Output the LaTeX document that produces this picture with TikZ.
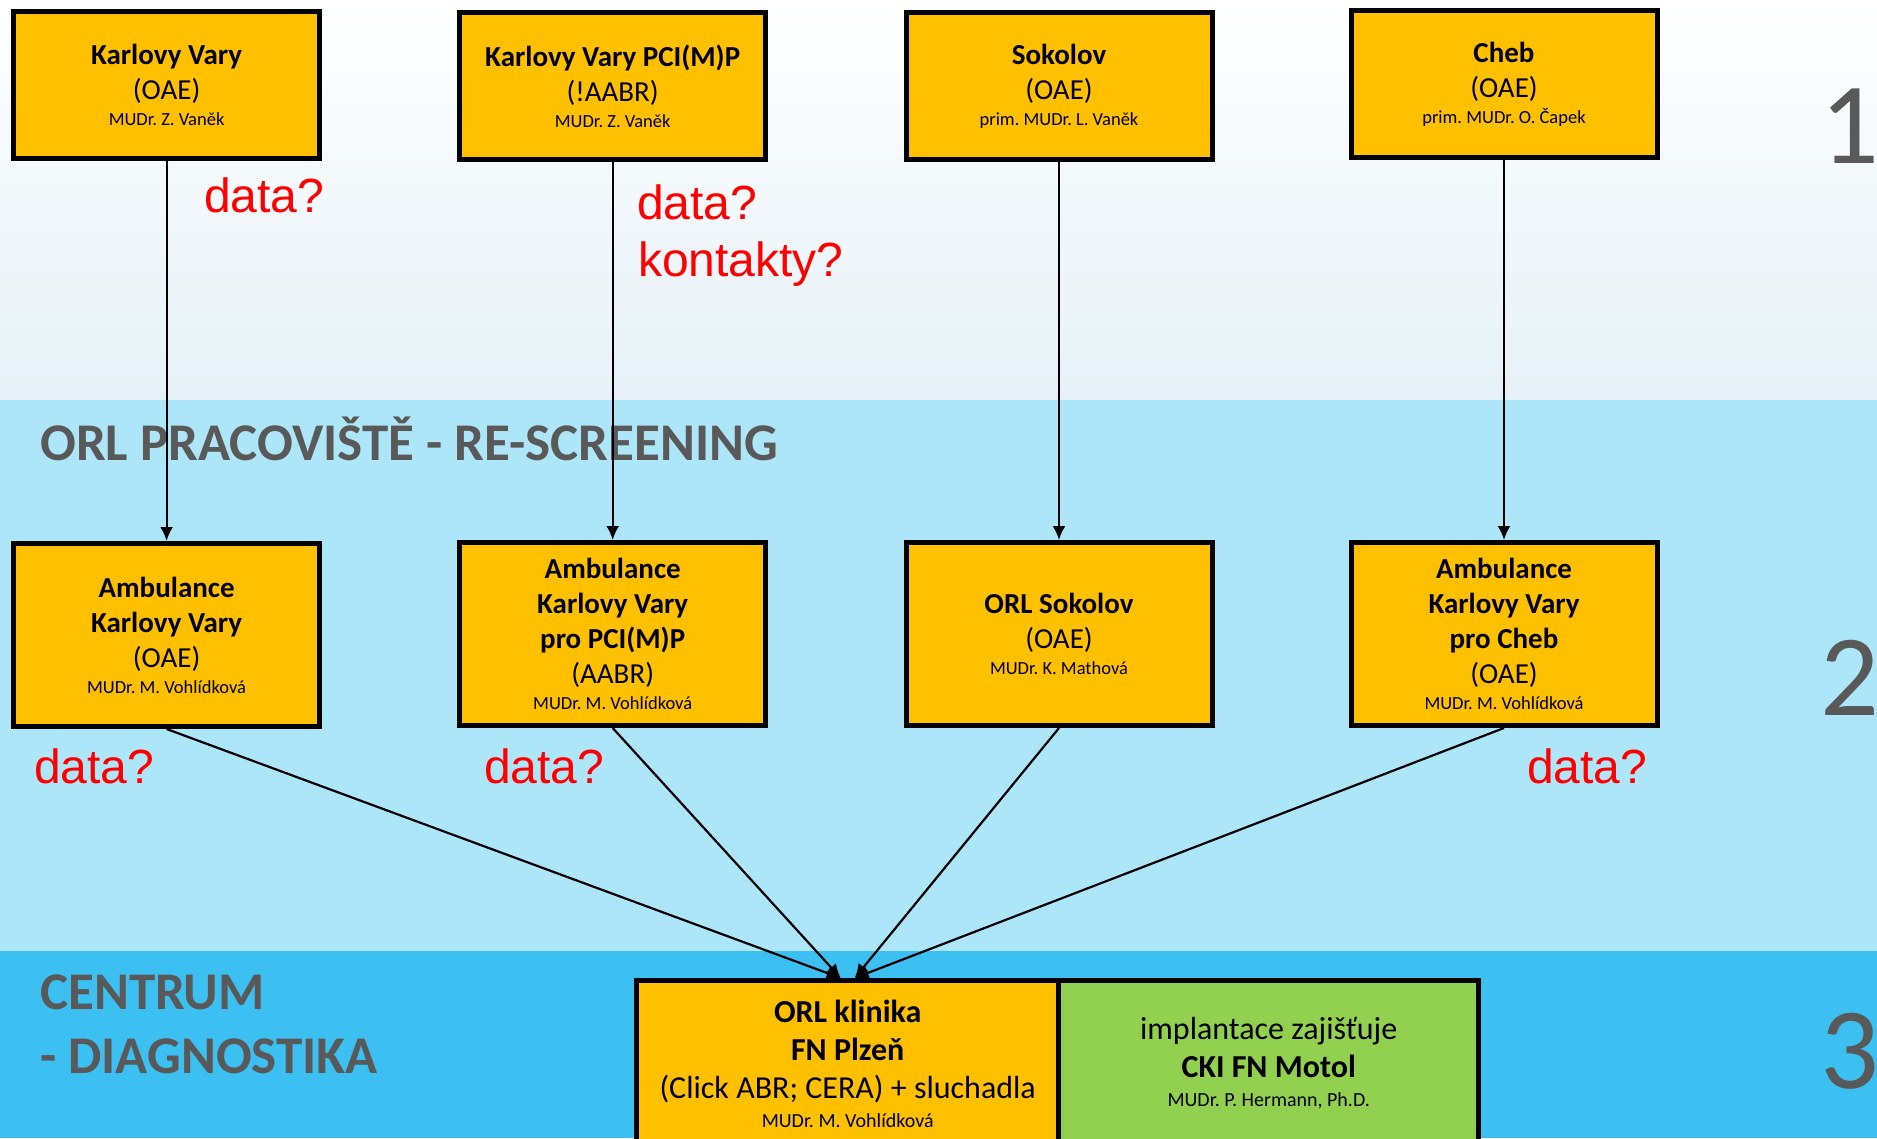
\documentclass[tikz,border=0pt]{standalone}
\usepackage{fontspec}
\setmainfont{Carlito}
\newfontfamily\arialfont{Liberation Sans}
\usetikzlibrary{positioning,arrows.meta}
\frenchspacing
\definecolor{boxorange}{HTML}{FFC000}
\definecolor{boxgreen}{HTML}{92D050}
\definecolor{bandtop}{HTML}{E6F1F7}
\definecolor{bandmid}{HTML}{ADE6F9}
\definecolor{bandlow}{HTML}{3BC0F1}
\definecolor{titlegray}{HTML}{595959}
\newcommand{\physician}[1]{{\fontsize{18.5}{22}\selectfont #1}}
\begin{document}
\begin{tikzpicture}[x=1pt,y=-1pt,
  box/.style={draw=black,line width=5pt,fill=boxorange,align=center,
    minimum width=306pt,font=\fontsize{29}{35}\selectfont},
  topbox/.style={box,minimum height=147pt},
  midbox/.style={box,minimum height=183pt},
  centerbox/.style={box,minimum height=166pt,minimum width=422pt,
    font=\fontsize{32}{38}\selectfont},
  flow/.style={line width=2.2pt,-{Latex[length=14pt,width=13pt]}},
  query/.style={text=red,inner sep=0pt,anchor=base west,
    font=\arialfont\fontsize{48}{57}\selectfont},
  band/.style={text=titlegray,inner sep=0pt,anchor=base west,
    font=\bfseries\fontsize{53}{64}\selectfont},
  level/.style={text=titlegray,inner sep=0pt,anchor=base west,
    font=\fontsize{116}{116}\selectfont}]
\useasboundingbox (0,0) rectangle (1877,1138);
\shade[top color=white,bottom color=bandtop] (0,0) rectangle (1877,400);
\fill[bandmid] (0,400) rectangle (1877,951);
\fill[bandlow] (0,951) rectangle (1877,1138);

\node[band] (rescreen) at (40,460) {ORL PRACOVIŠTĚ - RE-SCREENING};
\node[band] (centrum) at (40,1009) {CENTRUM};
\node[band] (diag) at (40,1073) {- DIAGNOSTIKA};
\node[level] (l1) at (1820,163) {1};
\node[level] (l2) at (1820,715) {2};
\node[level] (l3) at (1820,1088) {3};

\node[topbox] (kv) at (166.6,85) {{\bfseries Karlovy Vary}\\(OAE)\\[-9pt]\physician{MUDr. Z. Vaněk}};
\node[topbox] (kvp) at (612.7,86) {{\bfseries Karlovy Vary PCI(M)P}\\(!AABR)\\[-9pt]\physician{MUDr. Z. Vaněk}};
\node[topbox] (so) at (1059,86) {{\bfseries Sokolov}\\(OAE)\\[-9pt]\physician{prim. MUDr. L. Vaněk}};
\node[topbox] (ch) at (1504,84) {{\bfseries Cheb}\\(OAE)\\[-9pt]\physician{prim. MUDr. O. Čapek}};

\node[midbox] (amkv) at (166.6,635) {{\bfseries Ambulance}\\{\bfseries Karlovy Vary}\\(OAE)\\[-9pt]\physician{MUDr. M. Vohlídková}};
\node[midbox] (amkvp) at (612.7,634) {{\bfseries Ambulance}\\{\bfseries Karlovy Vary}\\{\bfseries pro PCI(M)P}\\(AABR)\\[-9pt]\physician{MUDr. M. Vohlídková}};
\node[midbox] (orlso) at (1059,634) {{\bfseries ORL Sokolov}\\(OAE)\\[-9pt]\physician{MUDr. K. Mathová}};
\node[midbox] (amch) at (1504,634) {{\bfseries Ambulance}\\{\bfseries Karlovy Vary}\\{\bfseries pro Cheb}\\(OAE)\\[-9pt]\physician{MUDr. M. Vohlídková}};

\node[centerbox] (orl) at (847.7,1063.5) {{\bfseries ORL klinika}\\{\bfseries FN Plzeň}\\(Click ABR; CERA) + sluchadla\\[-9pt]{\fontsize{20}{24}\selectfont MUDr. M. Vohlídková}};
\node[centerbox,fill=boxgreen,minimum width=420pt,right=-5pt of orl] (cki) {implantace zajišťuje\\{\bfseries CKI FN Motol}\\[-9pt]{\fontsize{20}{24}\selectfont MUDr. P. Hermann, Ph.D.}};

\draw[flow] (kv) -- (amkv);
\draw[flow] (kvp) -- (amkvp);
\draw[flow] (so) -- (orlso);
\draw[flow] (ch) -- (amch);
\draw[flow] (amkv.south) -- ([xshift=-7pt]orl.north);
\draw[flow] (amkvp.south) -- ([xshift=-7pt]orl.north);
\draw[flow] (orlso.south) -- ([xshift=7pt]orl.north);
\draw[flow] (amch.south) -- ([xshift=7pt]orl.north);

\node[query] (q1) at (204,212) {data?};
\node[query] (q2) at (637,219) {data?};
\node[query] (q3) at (638,276) {kontakty?};
\node[query] (q4) at (34,783) {data?};
\node[query] (q5) at (484,783) {data?};
\node[query] (q6) at (1527,783) {data?};
\end{tikzpicture}
\end{document}
